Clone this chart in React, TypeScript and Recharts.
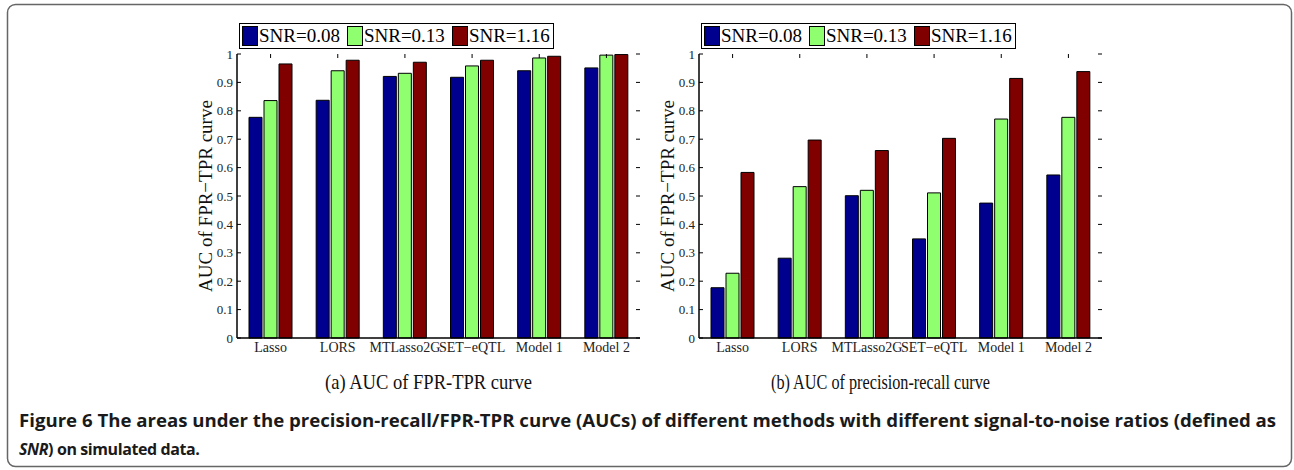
import React from 'react';
import { BarChart, Bar, XAxis, YAxis, Legend } from 'recharts';

const methods = ['Lasso', 'LORS', 'MTLasso2G', 'SET−eQTL', 'Model 1', 'Model 2'];
const snrNames = ['SNR=0.08', 'SNR=0.13', 'SNR=1.16'];
const snrColors = ['#00008f', '#8fff70', '#800000'];

// (a) AUC of FPR-TPR curve
const fprLow = [0.777, 0.837, 0.921, 0.918, 0.941, 0.951];
const fprMid = [0.836, 0.941, 0.932, 0.958, 0.986, 0.996];
const fprHigh = [0.965, 0.978, 0.971, 0.978, 0.992, 0.998];

// (b) AUC of precision-recall curve
const prLow = [0.177, 0.281, 0.501, 0.349, 0.475, 0.574];
const prMid = [0.228, 0.533, 0.52, 0.511, 0.771, 0.777];
const prHigh = [0.583, 0.697, 0.66, 0.703, 0.914, 0.938];

const yTicks = [0, 0.1, 0.2, 0.3, 0.4, 0.5, 0.6, 0.7, 0.8, 0.9, 1];
const yLabel = 'AUC of FPR−TPR curve';

const serif = '"Liberation Serif", "Times New Roman", serif';
const sans = '"Open Sans", "Noto Sans", sans-serif';
const PW = 403; // plot width
const PH = 284; // plot height

const build = (a: number[], b: number[], c: number[]) =>
  methods.map((m, i) => ({ method: m, s0: a[i], s1: b[i], s2: c[i] }));

const YTick = (props: any) => {
  const { x, y, payload } = props;
  const ax = x + 4;
  return (
    <g>
      <text x={x} y={y} textAnchor="end" dominantBaseline="central" fontSize={13} fill="#222" fontFamily={serif}>
        {payload.value}
      </text>
      <line x1={ax} x2={ax + 4} y1={y} y2={y} stroke="#000" />
      <line x1={ax + PW - 4} x2={ax + PW} y1={y} y2={y} stroke="#000" />
    </g>
  );
};

const XTick = (props: any) => {
  const { x, y, payload } = props;
  return (
    <g>
      <text x={x} y={y + 14} textAnchor="middle" fontSize={14} fill="#222" fontFamily={serif}>
        {payload.value}
      </text>
      <line x1={x} x2={x} y1={y - PH} y2={y - PH + 4} stroke="#000" />
    </g>
  );
};

const LegendBox = () => (
  <div
    style={{
      display: 'flex',
      alignItems: 'center',
      border: '1.5px solid #000',
      background: '#fff',
      height: 26,
      padding: '0 2px',
      boxSizing: 'border-box',
      fontFamily: serif,
      fontSize: 19,
      color: '#000',
      whiteSpace: 'nowrap',
    }}
  >
    {snrNames.map((n, i) => (
      <div key={n} style={{ display: 'flex', alignItems: 'center', marginRight: i < 2 ? 7 : 1 }}>
        <span
          style={{
            display: 'inline-block',
            width: 16,
            height: 20,
            background: snrColors[i],
            border: '1px solid #000',
            boxSizing: 'border-box',
          }}
        />
        <span style={{ lineHeight: '20px', marginLeft: 1 }}>{n}</span>
      </div>
    ))}
  </div>
);

const YLabel = (props: any) => {
  const vb = props.viewBox || { x: 0, y: 39, width: 47, height: PH };
  const cx = vb.x + 15;
  const cy = vb.y + vb.height / 2;
  return (
    <text
      x={cx}
      y={cy}
      transform={`rotate(-90 ${cx} ${cy})`}
      textAnchor="middle"
      dominantBaseline="central"
      fontSize={19}
      fill="#111"
      fontFamily={serif}
    >
      {yLabel}
    </text>
  );
};

function Panel({ data, left }: { data: any[]; left: number }) {
  return (
    <div style={{ position: 'absolute', left, top: 15 }}>
      <BarChart width={460} height={350} data={data} margin={{ top: 39, right: 10, bottom: 5, left: 0 }} barGap={2}>
        <XAxis
          dataKey="method"
          interval={0}
          height={22}
          tickSize={0}
          tickMargin={0}
          tickLine={false}
          axisLine={{ stroke: '#000', strokeWidth: 1.5 }}
          tick={<XTick />}
        />
        <XAxis xAxisId="top" dataKey="method" orientation="top" height={0} tick={false} tickLine={false} axisLine={{ stroke: '#000' }} />
        <YAxis
          domain={[0, 1]}
          ticks={yTicks}
          width={47}
          tickSize={0}
          tickMargin={4}
          tickLine={false}
          axisLine={{ stroke: '#000', strokeWidth: 1.5 }}
          tick={<YTick />}
          label={{ content: <YLabel /> }}
        />
        <YAxis yAxisId="right" orientation="right" domain={[0, 1]} width={0} tick={false} tickLine={false} axisLine={{ stroke: '#000' }} />
        <Legend
          layout="horizontal"
          verticalAlign="middle"
          align="center"
          content={<LegendBox />}
          wrapperStyle={{ left: 49, top: 8, width: 'auto', height: 26 }}
        />
        {snrNames.map((n, i) => (
          <Bar
            key={n}
            dataKey={`s${i}`}
            name={n}
            fill={snrColors[i]}
            stroke="#000"
            strokeWidth={1}
            barSize={13}
            isAnimationActive={false}
          />
        ))}
      </BarChart>
    </div>
  );
}

export default function App() {
  return (
    <div style={{ position: 'absolute', left: 0, top: 0, width: 1294, height: 470, background: '#fff' }}>
      <Panel data={build(fprLow, fprMid, fprHigh)} left={190} />
      <Panel data={build(prLow, prMid, prHigh)} left={652} />
      <svg width={1294} height={470} style={{ position: 'absolute', left: 0, top: 0, pointerEvents: 'none' }}>
        <rect x={7.5} y={4.5} width={1284} height={462} rx={8} fill="none" stroke="#666" strokeWidth={1.5} />
        <text x={325} y={389} fontSize={21} fontFamily={serif} fill="#111" textLength={207} lengthAdjust="spacingAndGlyphs">
          (a) AUC of FPR-TPR curve
        </text>
        <text x={771} y={389} fontSize={21} fontFamily={serif} fill="#111" textLength={219} lengthAdjust="spacingAndGlyphs">
          (b) AUC of precision-recall curve
        </text>
        <text
          x={19}
          y={427}
          fontSize={17}
          fontWeight="bold"
          fontFamily={sans}
          fill="#1a1a1a"
          textLength={1257}
          lengthAdjust="spacingAndGlyphs"
        >
          Figure 6 The areas under the precision-recall/FPR-TPR curve (AUCs) of different methods with different
          signal-to-noise ratios (defined as
        </text>
        <text x={19} y={455} fontSize={16} fontWeight="bold" fontFamily={sans} fill="#1a1a1a" letterSpacing={-0.4}>
          <tspan fontStyle="italic">SNR</tspan>
          <tspan>) on simulated data.</tspan>
        </text>
      </svg>
    </div>
  );
}
